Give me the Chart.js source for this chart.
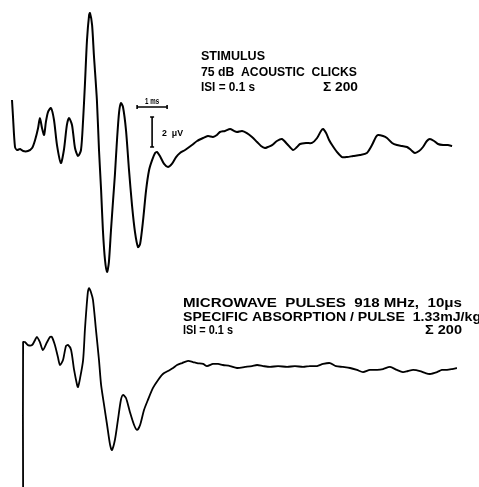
<!DOCTYPE html>
<html>
<head>
<meta charset="utf-8">
<script src="https://cdn.jsdelivr.net/npm/chart.js@4"></script>
<style>
  body { margin: 0; background: #fff; }
  canvas { display: block; }
</style>
</head>
<body>
<canvas id="myChart" width="479" height="487"></canvas>
<script>
// time in ms, amplitude in microvolts (1 ms, 2 uV)
const clickTime = [0.00, 0.03, 0.10, 0.17, 0.27, 0.37, 0.53, 0.67, 0.77, 0.87, 0.93, 1.00, 1.07, 1.13, 1.20, 1.30, 1.40, 1.50, 1.63, 1.73,
    1.83, 1.90, 2.00, 2.10, 2.20, 2.30, 2.37, 2.43, 2.50, 2.57, 2.60, 2.67, 2.73, 2.83, 2.90, 2.97, 3.03, 3.10, 3.17, 3.23,
    3.30, 3.37, 3.43, 3.50, 3.57, 3.63, 3.70, 3.80, 3.90, 4.00, 4.10, 4.20, 4.27, 4.37, 4.47, 4.57, 4.67, 4.77, 4.83, 4.93,
    5.07, 5.20, 5.33, 5.47, 5.60, 5.77, 6.00, 6.17, 6.37, 6.53, 6.70, 6.83, 6.93, 7.10, 7.27, 7.40, 7.50, 7.67, 7.83, 8.00,
    8.17, 8.30, 8.43, 8.53, 8.67, 8.83, 9.00, 9.17, 9.37, 9.50, 9.60, 9.80, 10.00, 10.17, 10.30, 10.37, 10.47, 10.57, 10.67, 10.83,
    11.00, 11.17, 11.37, 11.60, 11.83, 12.00, 12.13, 12.20, 12.37, 12.50, 12.67, 12.83, 13.00, 13.17, 13.30, 13.43, 13.57, 13.70, 13.83, 13.93,
    14.07, 14.20, 14.37, 14.53, 14.67];
const clickUv = [3.33, 2.33, 0.20, 0.00, 0.07, -0.07, -0.07, 0.13, 0.67, 1.47, 2.13, 1.47, 1.00, 1.87, 2.53, 2.80, 2.00, 0.33, -0.87, 0.00,
    1.67, 2.13, 1.67, 0.13, -0.40, 0.00, 2.00, 4.33, 7.33, 9.00, 9.13, 8.33, 6.33, 3.33, 0.00, -2.67, -5.33, -7.33, -8.13, -7.47,
    -5.33, -3.33, -1.67, 0.67, 2.53, 3.13, 2.87, 1.33, -1.33, -3.67, -5.47, -6.47, -6.27, -4.67, -2.67, -1.33, -0.67, -0.20, -0.13, -0.40,
    -0.93, -1.13, -0.93, -0.47, -0.20, 0.00, 0.33, 0.60, 0.80, 0.93, 0.87, 1.00, 1.20, 1.27, 1.40, 1.27, 1.20, 1.27, 1.13, 0.87,
    0.53, 0.27, 0.13, 0.20, 0.33, 0.60, 0.73, 0.40, 0.00, 0.20, 0.40, 0.47, 0.47, 0.80, 1.27, 1.40, 1.13, 0.67, 0.33, -0.13,
    -0.47, -0.47, -0.40, -0.33, -0.20, 0.33, 0.87, 1.00, 0.93, 0.80, 0.47, 0.33, 0.27, 0.20, 0.00, -0.20, -0.07, 0.20, 0.60, 0.73,
    0.60, 0.40, 0.33, 0.33, 0.27];

const microTime = [0.37, 0.37, 0.43, 0.53, 0.67, 0.77, 0.83, 0.93, 1.03, 1.17, 1.27, 1.33, 1.43, 1.53, 1.60, 1.70, 1.80, 1.87, 1.97, 2.07,
    2.17, 2.20, 2.27, 2.37, 2.43, 2.47, 2.53, 2.57, 2.63, 2.70, 2.80, 2.90, 2.97, 3.07, 3.17, 3.27, 3.33, 3.43, 3.53, 3.63,
    3.70, 3.80, 3.93, 4.07, 4.17, 4.27, 4.40, 4.53, 4.70, 4.87, 5.03, 5.20, 5.37, 5.50, 5.67, 5.87, 6.03, 6.17, 6.37, 6.50,
    6.70, 6.87, 7.03, 7.27, 7.50, 7.77, 8.00, 8.17, 8.37, 8.60, 8.87, 9.17, 9.43, 9.70, 9.93, 10.17, 10.37, 10.60, 10.80, 11.03,
    11.27, 11.50, 11.70, 11.93, 12.17, 12.37, 12.60, 12.83, 13.03, 13.20, 13.37, 13.60, 13.77, 13.93, 14.17, 14.33, 14.50, 14.67, 14.83];
const microUv = [-8.4, 1.53, 1.53, 1.33, 1.33, 1.67, 1.87, 1.53, 1.00, 1.53, 1.87, 1.87, 1.33, 0.53, 0.00, 0.33, 1.27, 1.33, 1.00, -0.33,
    -1.33, -1.47, -0.87, 0.33, 2.33, 3.47, 4.87, 5.13, 4.87, 4.33, 2.33, 0.33, -1.33, -2.67, -4.00, -5.33, -5.67, -5.00, -3.67, -2.33,
    -2.00, -2.20, -3.13, -4.00, -4.33, -4.00, -3.00, -2.33, -1.53, -1.00, -0.60, -0.40, -0.20, 0.00, 0.13, 0.27, 0.20, 0.13, 0.07, -0.07,
    0.07, 0.07, 0.00, -0.07, -0.20, -0.13, -0.07, 0.00, -0.07, -0.13, -0.07, -0.13, -0.07, -0.13, -0.07, -0.07, 0.07, 0.13, -0.07, -0.13,
    -0.20, -0.33, -0.47, -0.33, -0.33, -0.27, -0.13, -0.33, -0.47, -0.40, -0.33, -0.40, -0.53, -0.60, -0.47, -0.33, -0.33, -0.27, -0.20];

// calibration bars
const barMs = 1;
const barUv = 2;
const barAt = { t: 4.17, v: 2.87 };

const topLabels = ['STIMULUS', '75 dB  ACOUSTIC  CLICKS', 'ISI = 0.1 s', 'Σ 200'];
const bottomLabels = ['MICROWAVE  PULSES  918 MHz,  10μs', 'SPECIFIC ABSORPTION / PULSE  1.33mJ/kg', 'ISI = 0.1 s', 'Σ 200'];

const toPoints = (xs, ys) => xs.map((x, i) => ({ x: x, y: ys[i] }));

function fitText(c, text, x, y, w) {
    const m = c.measureText(text).width;
    c.save();
    c.translate(x, y);
    c.scale(w / m, 1);
    c.fillText(text, 0, 0);
    c.restore();
}

const annotations = {
    id: 'annotations',
    afterDatasetsDraw(chart) {
        const c = chart.ctx;
        const x = chart.scales.x;
        const y = chart.scales.yTop;
        c.save();
        c.strokeStyle = '#000';
        c.fillStyle = '#000';
        c.lineWidth = 1.6;

        // 1 ms bar
        const x0 = x.getPixelForValue(barAt.t), x1 = x.getPixelForValue(barAt.t + barMs);
        const yb = y.getPixelForValue(barAt.v);
        c.beginPath();
        c.moveTo(x0, yb); c.lineTo(x1, yb);
        c.moveTo(x0, yb - 2); c.lineTo(x0, yb + 2);
        c.moveTo(x1, yb - 2); c.lineTo(x1, yb + 2);
        // 2 uV bar
        const xv = x.getPixelForValue(barAt.t + barMs / 2);
        const v0 = y.getPixelForValue(barAt.v - 0.67), v1 = y.getPixelForValue(barAt.v - 0.67 - barUv);
        c.moveTo(xv, v0); c.lineTo(xv, v1);
        c.moveTo(xv - 2, v0); c.lineTo(xv + 2, v0);
        c.moveTo(xv - 2, v1); c.lineTo(xv + 2, v1);
        c.stroke();

        c.font = 'bold 9px "Liberation Sans"';
        fitText(c, '1 ms', x0 + 8, yb - 3, 14);
        fitText(c, '2  μV', xv + 10, (v0 + v1) / 2 + 4, 21);

        c.font = 'bold 12px "Liberation Sans"';
        fitText(c, topLabels[0], 201, 60, 64);
        fitText(c, topLabels[1], 201, 76, 156);
        fitText(c, topLabels[2], 201, 91, 54);
        fitText(c, topLabels[3], 323, 91, 35);

        c.font = 'bold 13px "Liberation Sans"';
        fitText(c, bottomLabels[0], 183, 307, 279);
        fitText(c, bottomLabels[1], 183, 321, 298);
        fitText(c, bottomLabels[3], 425, 334, 37);
        c.font = 'bold 12px "Liberation Sans"';
        fitText(c, bottomLabels[2], 183, 334, 50);
        c.restore();
    }
};

new Chart(document.getElementById('myChart'), {
    type: 'line',
    data: {
        datasets: [{
            label: 'Acoustic clicks',
            data: toPoints(clickTime, clickUv),
            yAxisID: 'yTop',
            borderColor: '#000',
            borderWidth: 2,
            pointRadius: 0,
            tension: 0.25
        }, {
            label: 'Microwave pulses',
            data: toPoints(microTime, microUv),
            yAxisID: 'yBottom',
            borderColor: '#000',
            borderWidth: 1.8,
            pointRadius: 0,
            tension: 0.25
        }]
    },
    options: {
        responsive: false,
        animation: false,
        layout: { padding: 0 },
        plugins: { legend: { display: false }, tooltip: { enabled: false } },
        scales: {
            x: { type: 'linear', display: false, min: -0.4, max: 15.567 },
            yTop: { display: false, min: -22.467, max: 10 },
            yBottom: { display: false, min: -8.133, max: 24.333 }
        }
    },
    plugins: [annotations]
});
</script>
</body>
</html>
